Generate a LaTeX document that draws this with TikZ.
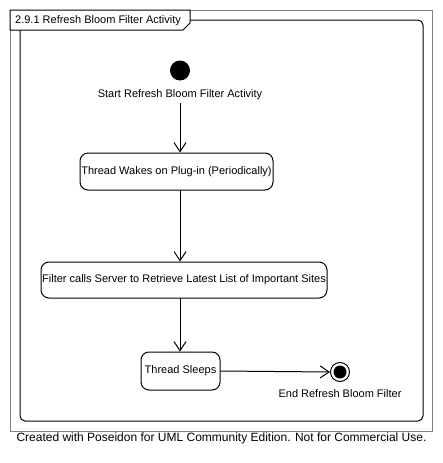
\documentclass[tikz,border=0pt]{standalone}
\usepackage{fontspec}
\setmainfont{Liberation Sans}
\usetikzlibrary{arrows.meta}
\begin{document}
\begin{tikzpicture}[x=1pt,y=-1pt,
  every node/.style={font=\fontsize{11}{13}\selectfont, inner sep=0pt},
  state/.style={draw, line width=1pt, rounded corners=8pt, align=center},
  flow/.style={line width=1pt, -{Straight Barb[length=9pt,width=12pt,line width=1pt]}},
  lbl/.style={}]
\useasboundingbox (0,0) rectangle (442,463);
\fill[white] (0,0) rectangle (442,463);
% frames
\draw[line width=1pt, draw={rgb,255:red,128;green,128;blue,128}] (10,10) rectangle (432,431);
\draw[line width=1pt, rounded corners=5pt] (20,20) rectangle (423,421);
\draw[line width=1pt, fill=white] (10,10) -- (190,10) -- (190,23) -- (183,30) -- (10,30) -- cycle;
\node[anchor=west] (title) at (15,21) {2.9.1 Refresh Bloom Filter Activity};
% start
\node[circle, fill=black, minimum size=20pt] (start) at (180,70.5) {};
\node (startlbl) at (180,95) {Start Refresh Bloom Filter Activity};
% states
\node[state, minimum width=193pt, minimum height=37pt] (n1) at (176.5,171.5) {Thread Wakes on Plug-in (Periodically)};
\node[state, minimum width=286pt, minimum height=36pt] (n2) at (184,280) {Filter calls Server to Retrieve Latest List of Important Sites};
\node[state, minimum width=79pt, minimum height=38pt] (n3) at (180.5,371) {Thread Sleeps};
% end
\node[circle, draw, line width=1pt, minimum size=19pt] (end) at (340,372) {};
\node[circle, fill=black, minimum size=13pt] (endin) at (340,372) {};
\node (endlbl) at (340,394) {End Refresh Bloom Filter};
% flows
\coordinate (a0) at (180,103);
\draw[flow] (a0) -- (a0 |- n1.north);
\coordinate (a1) at (180,190);
\draw[flow] (a1) -- (a1 |- n2.north);
\coordinate (a2) at (180,298);
\draw[flow] (a2) -- (a2 |- n3.north);
\draw[flow] (n3.east) -- (end.west);
% footer
\node[font=\fontsize{12}{14}\selectfont] (footer) at (221.5,438) {Created with Poseidon for UML Community Edition. Not for Commercial Use.};
\end{tikzpicture}
\end{document}
